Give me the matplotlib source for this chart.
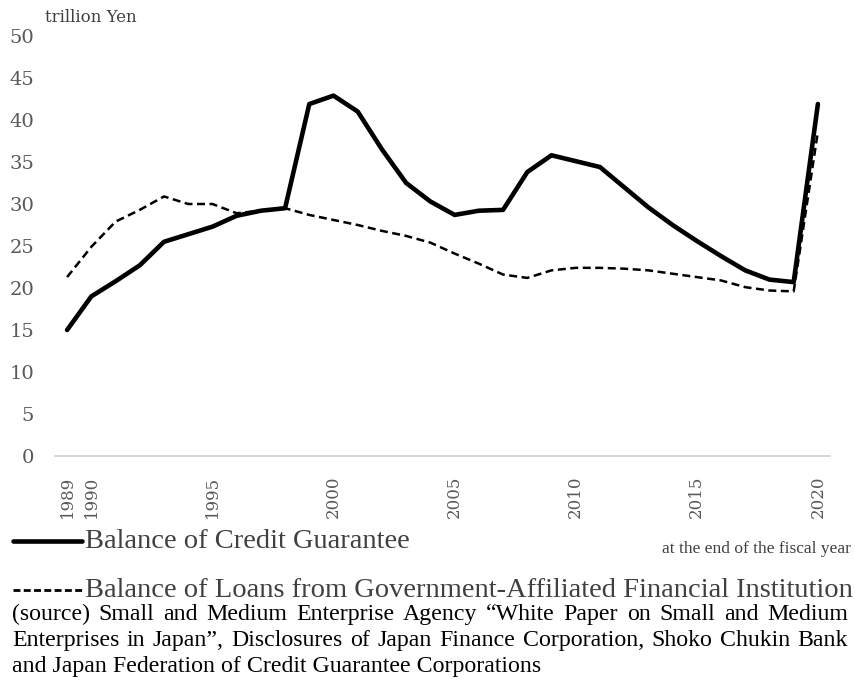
import matplotlib
matplotlib.use("Agg")
import matplotlib.pyplot as plt
from matplotlib.lines import Line2D

years = list(range(1989, 2021))
credit_guarantee = [15.0, 19.0, 20.8, 22.7, 25.5, 26.4, 27.3, 28.6, 29.2, 29.5,
                    41.9, 42.9, 41.0, 36.5, 32.5, 30.3, 28.7, 29.2, 29.3, 33.8,
                    35.8, 35.1, 34.4, 32.0, 29.6, 27.5, 25.6, 23.8, 22.1, 21.0,
                    20.7, 41.9]
gov_loans = [21.3, 24.9, 27.9, 29.3, 30.9, 30.0, 30.0, 28.9, 29.2, 29.5,
             28.7, 28.1, 27.5, 26.8, 26.2, 25.4, 24.1, 22.9, 21.6, 21.2,
             22.1, 22.4, 22.4, 22.3, 22.1, 21.7, 21.3, 20.9, 20.1, 19.7,
             19.6, 38.6]
xtick_years = [1989, 1990, 1995, 2000, 2005, 2010, 2015, 2020]
yticks = [0, 5, 10, 15, 20, 25, 30, 35, 40, 45, 50]

unit_label = "trillion Yen"
series_labels = ["Balance of Credit Guarantee",
                 "Balance of Loans from Government-Affiliated Financial Institution"]
note_label = "at the end of the fiscal year"
source_lines = [
    "(source) Small and Medium Enterprise Agency \u201cWhite Paper on Small and Medium",
    "Enterprises in Japan\u201d, Disclosures of Japan Finance Corporation, Shoko Chukin Bank",
    "and Japan Federation of Credit Guarantee Corporations",
]

W, H = 855, 689
fig = plt.figure(figsize=(W / 100, H / 100), dpi=100)
ax = fig.add_axes([55 / W, 1 - 456 / H, (830 - 55) / W, (456 - 36) / H])

ax.plot(years, credit_guarantee, color="black", lw=3.3, solid_joinstyle="round",
        solid_capstyle="round")
ax.plot(years, gov_loans, color="black", lw=1.8, linestyle=(0, (3.2, 1.8)))

ax.set_xlim(1988.5, 2020.5)
ax.set_ylim(0, 50)
ax.set_yticks(yticks)
ax.set_xticks(xtick_years)
ax.set_xticklabels([str(y) for y in xtick_years], rotation=90, fontsize=12,
                   family="DejaVu Serif", color="#595959")
ax.set_yticklabels([str(v) for v in yticks], fontsize=14,
                   family="DejaVu Serif", color="#595959")
ax.tick_params(axis="both", length=0)
ax.tick_params(axis="y", pad=15)
ax.tick_params(axis="x", pad=14)
for s in ["top", "right", "left"]:
    ax.spines[s].set_visible(False)
ax.spines["bottom"].set_color("#d0d0d0")
ax.spines["bottom"].set_linewidth(1.2)

fig.text(45 / W, 1 - 17 / H, unit_label, fontsize=12, family="DejaVu Serif",
         color="#404040", va="center", ha="left")

# legend rows
fig.add_artist(Line2D([13 / W, 82 / W], [1 - 541 / H, 1 - 541 / H], color="black",
                      lw=3.3, solid_capstyle="round"))
fig.text(85 / W, 1 - 548 / H, series_labels[0], fontsize=20.5, family="Liberation Serif",
         color="#404040", va="baseline", ha="left")
fig.text(851 / W, 1 - 553 / H, note_label, fontsize=12.5, family="Liberation Serif",
         color="#404040", va="baseline", ha="right")
fig.add_artist(Line2D([13 / W, 82 / W], [1 - 590 / H, 1 - 590 / H], color="black",
                      lw=2.0, linestyle=(0, (2.5, 1.2))))
fig.text(85 / W, 1 - 597 / H, series_labels[1], fontsize=20.5, family="Liberation Serif",
         color="#404040", va="baseline", ha="left")

# justified source text
renderer = fig.canvas.get_renderer()
left_px, right_px = 12, 848
line_base = [620, 646, 672]
src_fs = 17.2
for i, line in enumerate(source_lines):
    y = 1 - line_base[i] / H
    if i == len(source_lines) - 1:
        fig.text(left_px / W, y, line, fontsize=src_fs, family="Liberation Serif",
                 color="black", va="baseline", ha="left")
        continue
    words = line.split(" ")
    widths = []
    for w in words:
        t = fig.text(0, 0, w, fontsize=src_fs, family="Liberation Serif")
        widths.append(t.get_window_extent(renderer).width)
        t.remove()
    gap = (right_px - left_px - sum(widths)) / (len(words) - 1)
    x = left_px
    for w, wd in zip(words, widths):
        fig.text(x / W, y, w, fontsize=src_fs, family="Liberation Serif",
                 color="black", va="baseline", ha="left")
        x += wd + gap

fig.savefig("out.png", dpi=100)
